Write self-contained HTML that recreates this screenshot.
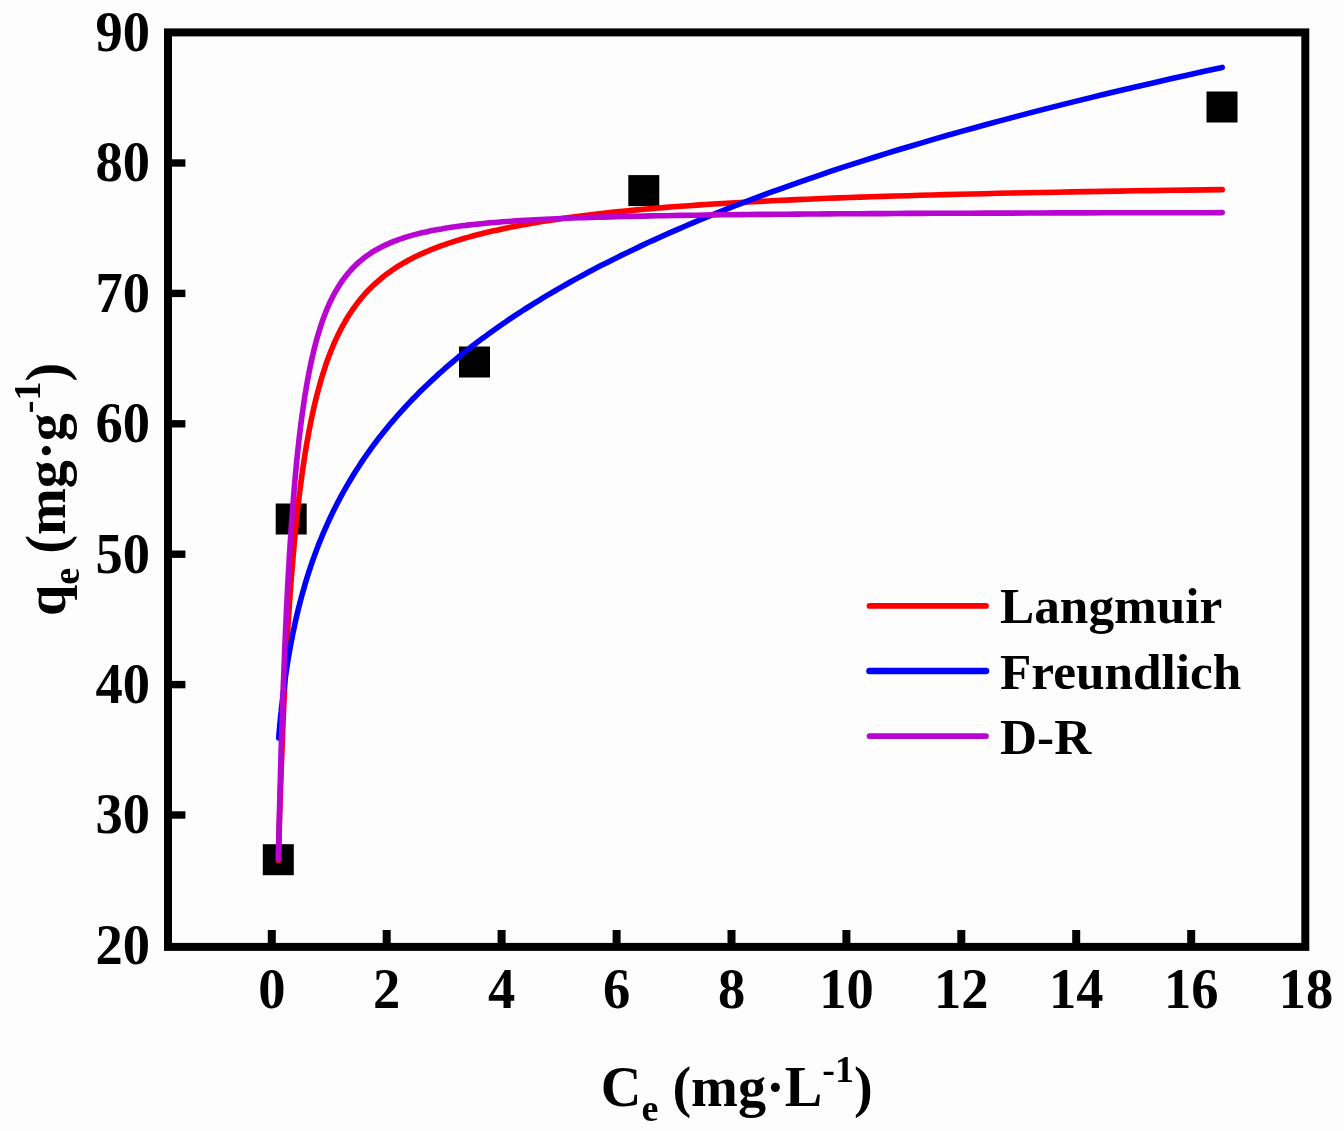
<!DOCTYPE html>
<html lang="en"><head><meta charset="utf-8"><title>Adsorption isotherm fits</title>
<style>
html,body{margin:0;padding:0;background:#fdfdfd;}
body{width:1344px;height:1131px;overflow:hidden;}
svg{display:block;filter:blur(0.45px);}
text{font-family:"Liberation Serif","Times New Roman",serif;font-weight:bold;fill:#000;}
</style></head><body>
<svg width="1344" height="1131" viewBox="0 0 1344 1131">
<rect x="0" y="0" width="1344" height="1131" fill="#fdfdfd"/>
<g id="frame"><rect x="168" y="32.4" width="1137.3" height="914.5" fill="none" stroke="#000" stroke-width="8"/></g>
<g id="xticks" fill="#000">
<rect x="267.8" y="930" width="8" height="14"/>
<rect x="382.7" y="930" width="8" height="14"/>
<rect x="497.6" y="930" width="8" height="14"/>
<rect x="612.6" y="930" width="8" height="14"/>
<rect x="727.5" y="930" width="8" height="14"/>
<rect x="842.4" y="930" width="8" height="14"/>
<rect x="957.3" y="930" width="8" height="14"/>
<rect x="1072.2" y="930" width="8" height="14"/>
<rect x="1187.2" y="930" width="8" height="14"/>
</g><g id="yticks" fill="#000">
<rect x="171" y="811.3" width="14.4" height="7.4"/>
<rect x="171" y="680.9" width="14.4" height="7.4"/>
<rect x="171" y="550.5" width="14.4" height="7.4"/>
<rect x="171" y="420.1" width="14.4" height="7.4"/>
<rect x="171" y="289.7" width="14.4" height="7.4"/>
<rect x="171" y="159.3" width="14.4" height="7.4"/>
</g><g id="xlabels" font-size="58" text-anchor="middle">
<text transform="translate(271.8,1007.6) scale(0.94,1)">0</text>
<text transform="translate(386.7,1007.6) scale(0.94,1)">2</text>
<text transform="translate(501.6,1007.6) scale(0.94,1)">4</text>
<text transform="translate(616.6,1007.6) scale(0.94,1)">6</text>
<text transform="translate(731.5,1007.6) scale(0.94,1)">8</text>
<text transform="translate(846.4,1007.6) scale(0.94,1)">10</text>
<text transform="translate(961.3,1007.6) scale(0.94,1)">12</text>
<text transform="translate(1076.2,1007.6) scale(0.94,1)">14</text>
<text transform="translate(1191.2,1007.6) scale(0.94,1)">16</text>
<text transform="translate(1306.1,1007.6) scale(0.94,1)">18</text>
</g><g id="ylabels" font-size="58" text-anchor="end">
<text transform="translate(150,963.8) scale(0.94,1)">20</text>
<text transform="translate(150,833.4) scale(0.94,1)">30</text>
<text transform="translate(150,703.0) scale(0.94,1)">40</text>
<text transform="translate(150,572.6) scale(0.94,1)">50</text>
<text transform="translate(150,442.2) scale(0.94,1)">60</text>
<text transform="translate(150,311.8) scale(0.94,1)">70</text>
<text transform="translate(150,181.4) scale(0.94,1)">80</text>
<text transform="translate(150,51.0) scale(0.94,1)">90</text>
</g><g id="points" fill="#000">
<rect x="262.8" y="844.2" width="31" height="31"/>
<rect x="275.7" y="503.5" width="31" height="31"/>
<rect x="459.0" y="346.5" width="31" height="31"/>
<rect x="628.3" y="175.1" width="31" height="31"/>
<rect x="1206.5" y="91.5" width="31" height="31"/>
</g><g id="curves" fill="none" stroke-width="5.6" stroke-linecap="round" stroke-linejoin="round">
<path stroke="#ff0000" d="M278.4,860.4 L278.5,855.8 L278.6,851.2 L278.7,846.6 L278.9,841.9 L279.0,837.3 L279.1,832.5 L279.3,827.8 L279.4,823.0 L279.6,818.3 L279.7,813.4 L279.9,808.6 L280.0,803.8 L280.2,798.9 L280.4,794.0 L280.5,789.1 L280.7,784.2 L280.9,779.2 L281.0,774.2 L281.2,769.3 L281.4,764.3 L281.6,759.3 L281.8,754.2 L282.0,749.2 L282.2,744.2 L282.4,739.1 L282.6,734.1 L282.8,729.0 L283.0,723.9 L283.2,718.8 L283.4,713.7 L283.7,708.7 L283.9,703.6 L284.1,698.5 L284.4,693.4 L284.6,688.3 L284.8,683.2 L285.1,678.1 L285.4,673.0 L285.6,667.9 L285.9,662.8 L286.2,657.7 L286.4,652.7 L286.7,647.6 L287.0,642.6 L287.3,637.5 L287.6,632.5 L287.9,627.5 L288.2,622.5 L288.5,617.5 L288.9,612.5 L289.2,607.5 L289.5,602.6 L289.9,597.6 L290.2,592.7 L290.6,587.8 L290.9,583.0 L291.3,578.1 L291.7,573.3 L292.1,568.5 L292.5,563.7 L292.9,558.9 L293.3,554.2 L293.7,549.5 L294.1,544.8 L294.5,540.1 L295.0,535.5 L295.4,530.9 L295.9,526.3 L296.3,521.7 L296.8,517.2 L297.3,512.7 L297.8,508.3 L298.3,503.9 L298.8,499.5 L299.3,495.1 L299.9,490.8 L300.4,486.5 L301.0,482.2 L301.5,478.0 L302.1,473.8 L302.7,469.7 L303.3,465.5 L303.9,461.5 L304.5,457.4 L305.1,453.4 L305.8,449.4 L306.4,445.5 L307.1,441.6 L307.8,437.7 L308.5,433.9 L309.2,430.1 L309.9,426.4 L310.7,422.6 L311.4,419.0 L312.2,415.3 L313.0,411.7 L313.7,408.2 L314.6,404.7 L315.4,401.2 L316.2,397.8 L317.1,394.4 L318.0,391.0 L318.9,387.7 L319.8,384.4 L320.7,381.1 L321.6,377.9 L322.6,374.8 L323.6,371.7 L324.6,368.6 L325.6,365.5 L326.6,362.5 L327.7,359.5 L328.8,356.6 L329.9,353.7 L331.0,350.8 L332.2,348.0 L333.3,345.2 L334.5,342.5 L335.7,339.8 L337.0,337.1 L338.2,334.5 L339.5,331.9 L340.8,329.4 L342.1,326.8 L343.5,324.4 L344.9,321.9 L346.3,319.5 L347.7,317.1 L349.2,314.8 L350.7,312.5 L352.2,310.2 L353.8,308.0 L355.4,305.8 L357.0,303.6 L358.6,301.5 L360.3,299.4 L362.0,297.3 L363.8,295.3 L365.5,293.3 L367.3,291.4 L369.2,289.4 L371.1,287.5 L373.0,285.7 L375.0,283.9 L376.9,282.1 L379.0,280.3 L381.1,278.5 L383.2,276.8 L385.3,275.1 L387.5,273.5 L389.7,271.9 L392.0,270.3 L394.3,268.7 L396.7,267.2 L399.1,265.6 L401.6,264.2 L404.1,262.7 L406.7,261.3 L409.3,259.8 L411.9,258.5 L414.6,257.1 L417.4,255.7 L420.2,254.4 L423.1,253.1 L426.0,251.8 L429.0,250.6 L432.0,249.3 L435.1,248.1 L438.3,246.9 L441.5,245.7 L444.8,244.6 L448.1,243.4 L451.5,242.3 L455.0,241.2 L458.5,240.1 L462.1,239.0 L465.8,237.9 L469.6,236.9 L473.4,235.8 L477.3,234.8 L481.3,233.8 L485.3,232.8 L489.4,231.8 L493.6,230.8 L497.9,229.9 L502.3,228.9 L506.8,228.0 L511.3,227.1 L515.9,226.2 L520.6,225.3 L525.5,224.4 L530.4,223.5 L535.4,222.7 L540.4,221.8 L545.6,221.0 L550.9,220.2 L556.3,219.4 L561.8,218.6 L567.4,217.8 L573.1,217.0 L579.0,216.2 L584.9,215.5 L591.0,214.8 L597.1,214.0 L603.4,213.3 L609.8,212.6 L616.4,211.9 L623.0,211.2 L629.8,210.6 L636.7,209.9 L643.8,209.3 L651.0,208.6 L658.3,208.0 L665.8,207.4 L673.4,206.8 L681.1,206.2 L689.1,205.7 L697.1,205.1 L705.3,204.5 L713.7,204.0 L722.3,203.5 L731.0,203.0 L739.8,202.5 L748.9,202.0 L758.1,201.5 L767.5,201.0 L777.1,200.5 L786.9,200.1 L796.8,199.6 L807.0,199.2 L817.3,198.8 L827.8,198.3 L838.6,197.9 L849.5,197.5 L860.7,197.1 L872.1,196.8 L883.7,196.4 L895.5,196.0 L907.6,195.7 L919.9,195.3 L932.4,195.0 L945.2,194.6 L958.2,194.3 L971.4,194.0 L985.0,193.7 L998.8,193.3 L1012.8,193.0 L1027.1,192.7 L1041.7,192.5 L1056.6,192.2 L1071.8,191.9 L1087.2,191.6 L1103.0,191.4 L1119.1,191.1 L1135.4,190.8 L1152.1,190.6 L1169.1,190.3 L1186.5,190.1 L1204.2,189.9 L1222.2,189.6"/>
<path stroke="#0000ff" d="M278.7,737.9 L278.9,736.3 L279.0,734.7 L279.1,733.1 L279.3,731.4 L279.4,729.8 L279.6,728.2 L279.7,726.5 L279.8,724.9 L280.0,723.2 L280.2,721.6 L280.3,719.9 L280.5,718.3 L280.6,716.6 L280.8,714.9 L281.0,713.2 L281.2,711.5 L281.3,709.8 L281.5,708.1 L281.7,706.4 L281.9,704.7 L282.1,703.0 L282.3,701.3 L282.5,699.5 L282.7,697.8 L282.9,696.1 L283.1,694.3 L283.3,692.6 L283.6,690.8 L283.8,689.0 L284.0,687.3 L284.2,685.5 L284.5,683.7 L284.7,681.9 L285.0,680.1 L285.2,678.3 L285.5,676.5 L285.7,674.7 L286.0,672.9 L286.3,671.0 L286.6,669.2 L286.8,667.4 L287.1,665.5 L287.4,663.7 L287.7,661.8 L288.0,659.9 L288.3,658.1 L288.6,656.2 L289.0,654.3 L289.3,652.4 L289.6,650.5 L290.0,648.6 L290.3,646.7 L290.7,644.8 L291.0,642.9 L291.4,640.9 L291.8,639.0 L292.2,637.0 L292.5,635.1 L292.9,633.1 L293.3,631.2 L293.8,629.2 L294.2,627.2 L294.6,625.2 L295.0,623.3 L295.5,621.3 L295.9,619.3 L296.4,617.2 L296.9,615.2 L297.3,613.2 L297.8,611.2 L298.3,609.1 L298.8,607.1 L299.4,605.0 L299.9,603.0 L300.4,600.9 L301.0,598.8 L301.5,596.8 L302.1,594.7 L302.7,592.6 L303.3,590.5 L303.9,588.4 L304.5,586.2 L305.1,584.1 L305.7,582.0 L306.4,579.9 L307.0,577.7 L307.7,575.6 L308.4,573.4 L309.1,571.2 L309.8,569.1 L310.5,566.9 L311.3,564.7 L312.0,562.5 L312.8,560.3 L313.6,558.1 L314.4,555.9 L315.2,553.6 L316.0,551.4 L316.9,549.1 L317.7,546.9 L318.6,544.6 L319.5,542.4 L320.4,540.1 L321.4,537.8 L322.3,535.5 L323.3,533.2 L324.3,530.9 L325.3,528.6 L326.3,526.3 L327.3,524.0 L328.4,521.6 L329.5,519.3 L330.6,516.9 L331.7,514.6 L332.8,512.2 L334.0,509.8 L335.2,507.5 L336.4,505.1 L337.6,502.7 L338.9,500.3 L340.2,497.8 L341.5,495.4 L342.8,493.0 L344.2,490.5 L345.6,488.1 L347.0,485.6 L348.4,483.2 L349.9,480.7 L351.4,478.2 L352.9,475.7 L354.4,473.2 L356.0,470.7 L357.6,468.2 L359.3,465.7 L360.9,463.1 L362.6,460.6 L364.4,458.0 L366.1,455.5 L368.0,452.9 L369.8,450.3 L371.7,447.7 L373.6,445.1 L375.5,442.5 L377.5,439.9 L379.5,437.3 L381.6,434.7 L383.7,432.0 L385.8,429.4 L388.0,426.7 L390.2,424.0 L392.5,421.4 L394.8,418.7 L397.1,416.0 L399.5,413.3 L402.0,410.6 L404.5,407.8 L407.0,405.1 L409.6,402.4 L412.2,399.6 L414.9,396.9 L417.6,394.1 L420.4,391.3 L423.3,388.5 L426.2,385.7 L429.1,382.9 L432.1,380.1 L435.2,377.3 L438.3,374.4 L441.5,371.6 L444.7,368.7 L448.0,365.9 L451.4,363.0 L454.8,360.1 L458.3,357.2 L461.9,354.3 L465.5,351.4 L469.2,348.5 L473.0,345.5 L476.9,342.6 L480.8,339.6 L484.8,336.7 L488.8,333.7 L493.0,330.7 L497.2,327.7 L501.5,324.7 L505.9,321.7 L510.4,318.7 L514.9,315.6 L519.6,312.6 L524.3,309.5 L529.2,306.5 L534.1,303.4 L539.1,300.3 L544.2,297.2 L549.4,294.1 L554.7,291.0 L560.1,287.8 L565.6,284.7 L571.2,281.5 L577.0,278.4 L582.8,275.2 L588.7,272.0 L594.8,268.8 L601.0,265.6 L607.3,262.4 L613.7,259.2 L620.2,255.9 L626.9,252.7 L633.7,249.4 L640.6,246.1 L647.6,242.8 L654.8,239.6 L662.1,236.2 L669.6,232.9 L677.2,229.6 L684.9,226.3 L692.8,222.9 L700.9,219.5 L709.1,216.2 L717.4,212.8 L726.0,209.4 L734.6,206.0 L743.5,202.6 L752.5,199.1 L761.7,195.7 L771.1,192.2 L780.6,188.8 L790.3,185.3 L800.2,181.8 L810.3,178.3 L820.6,174.8 L831.1,171.2 L841.8,167.7 L852.7,164.1 L863.8,160.6 L875.1,157.0 L886.7,153.4 L898.4,149.8 L910.4,146.2 L922.6,142.6 L935.0,138.9 L947.7,135.3 L960.6,131.6 L973.8,128.0 L987.2,124.3 L1000.9,120.6 L1014.8,116.9 L1029.0,113.1 L1043.5,109.4 L1058.3,105.6 L1073.3,101.9 L1088.6,98.1 L1104.2,94.3 L1120.1,90.5 L1136.3,86.7 L1152.9,82.9 L1169.7,79.0 L1186.9,75.2 L1204.4,71.3 L1222.2,67.4"/>
<path stroke="#b805d2" d="M278.4,858.7 L278.5,853.1 L278.6,847.6 L278.7,842.0 L278.9,836.3 L279.0,830.6 L279.1,825.0 L279.3,819.2 L279.4,813.5 L279.6,807.7 L279.7,801.9 L279.9,796.1 L280.0,790.2 L280.2,784.4 L280.4,778.5 L280.5,772.6 L280.7,766.6 L280.9,760.7 L281.0,754.8 L281.2,748.8 L281.4,742.8 L281.6,736.8 L281.8,730.8 L282.0,724.8 L282.2,718.8 L282.4,712.8 L282.6,706.8 L282.8,700.8 L283.0,694.8 L283.2,688.8 L283.4,682.8 L283.7,676.8 L283.9,670.8 L284.1,664.8 L284.4,658.8 L284.6,652.8 L284.8,646.8 L285.1,640.9 L285.4,635.0 L285.6,629.0 L285.9,623.1 L286.2,617.3 L286.4,611.4 L286.7,605.5 L287.0,599.7 L287.3,593.9 L287.6,588.2 L287.9,582.4 L288.2,576.7 L288.5,571.0 L288.9,565.4 L289.2,559.7 L289.5,554.1 L289.9,548.6 L290.2,543.1 L290.6,537.6 L290.9,532.1 L291.3,526.7 L291.7,521.4 L292.1,516.0 L292.5,510.7 L292.9,505.5 L293.3,500.3 L293.7,495.1 L294.1,490.0 L294.5,485.0 L295.0,479.9 L295.4,475.0 L295.9,470.1 L296.3,465.2 L296.8,460.4 L297.3,455.6 L297.8,450.9 L298.3,446.2 L298.8,441.6 L299.3,437.0 L299.9,432.5 L300.4,428.1 L301.0,423.7 L301.5,419.3 L302.1,415.0 L302.7,410.8 L303.3,406.6 L303.9,402.5 L304.5,398.4 L305.1,394.4 L305.8,390.5 L306.4,386.6 L307.1,382.7 L307.8,378.9 L308.5,375.2 L309.2,371.6 L309.9,367.9 L310.7,364.4 L311.4,360.9 L312.2,357.5 L313.0,354.1 L313.7,350.7 L314.6,347.5 L315.4,344.3 L316.2,341.1 L317.1,338.0 L318.0,334.9 L318.9,331.9 L319.8,329.0 L320.7,326.1 L321.6,323.3 L322.6,320.5 L323.6,317.8 L324.6,315.1 L325.6,312.5 L326.6,309.9 L327.7,307.4 L328.8,304.9 L329.9,302.5 L331.0,300.2 L332.2,297.8 L333.3,295.6 L334.5,293.4 L335.7,291.2 L337.0,289.1 L338.2,287.0 L339.5,285.0 L340.8,283.0 L342.1,281.0 L343.5,279.1 L344.9,277.3 L346.3,275.5 L347.7,273.7 L349.2,272.0 L350.7,270.3 L352.2,268.6 L353.8,267.0 L355.4,265.4 L357.0,263.9 L358.6,262.4 L360.3,261.0 L362.0,259.5 L363.8,258.1 L365.5,256.8 L367.3,255.5 L369.2,254.2 L371.1,252.9 L373.0,251.7 L375.0,250.5 L376.9,249.4 L379.0,248.3 L381.1,247.2 L383.2,246.1 L385.3,245.1 L387.5,244.1 L389.7,243.1 L392.0,242.1 L394.3,241.2 L396.7,240.3 L399.1,239.4 L401.6,238.6 L404.1,237.7 L406.7,236.9 L409.3,236.1 L411.9,235.4 L414.6,234.6 L417.4,233.9 L420.2,233.2 L423.1,232.5 L426.0,231.9 L429.0,231.2 L432.0,230.6 L435.1,230.0 L438.3,229.4 L441.5,228.9 L444.8,228.3 L448.1,227.8 L451.5,227.3 L455.0,226.8 L458.5,226.3 L462.1,225.8 L465.8,225.4 L469.6,224.9 L473.4,224.5 L477.3,224.1 L481.3,223.7 L485.3,223.3 L489.4,222.9 L493.6,222.5 L497.9,222.2 L502.3,221.8 L506.8,221.5 L511.3,221.2 L515.9,220.9 L520.6,220.6 L525.5,220.3 L530.4,220.0 L535.4,219.7 L540.4,219.5 L545.6,219.2 L550.9,219.0 L556.3,218.7 L561.8,218.5 L567.4,218.3 L573.1,218.0 L579.0,217.8 L584.9,217.6 L591.0,217.4 L597.1,217.2 L603.4,217.1 L609.8,216.9 L616.4,216.7 L623.0,216.5 L629.8,216.4 L636.7,216.2 L643.8,216.1 L651.0,215.9 L658.3,215.8 L665.8,215.7 L673.4,215.5 L681.1,215.4 L689.1,215.3 L697.1,215.2 L705.3,215.0 L713.7,214.9 L722.3,214.8 L731.0,214.7 L739.8,214.6 L748.9,214.5 L758.1,214.4 L767.5,214.4 L777.1,214.3 L786.9,214.2 L796.8,214.1 L807.0,214.0 L817.3,214.0 L827.8,213.9 L838.6,213.8 L849.5,213.7 L860.7,213.7 L872.1,213.6 L883.7,213.6 L895.5,213.5 L907.6,213.4 L919.9,213.4 L932.4,213.3 L945.2,213.3 L958.2,213.2 L971.4,213.2 L985.0,213.1 L998.8,213.1 L1012.8,213.1 L1027.1,213.0 L1041.7,213.0 L1056.6,212.9 L1071.8,212.9 L1087.2,212.9 L1103.0,212.8 L1119.1,212.8 L1135.4,212.8 L1152.1,212.7 L1169.1,212.7 L1186.5,212.7 L1204.2,212.7 L1222.2,212.6"/>
</g><g id="legend" font-size="51.3">
<line x1="869.5" y1="605.9" x2="986" y2="605.9" stroke="#ff0000" stroke-width="5.8" stroke-linecap="round"/>
<text x="1000" y="623.4">Langmuir</text>
<line x1="869.5" y1="671.0" x2="986" y2="671.0" stroke="#0000ff" stroke-width="6.6" stroke-linecap="round"/>
<text x="1000" y="688.5">Freundlich</text>
<line x1="869.5" y1="736.1" x2="986" y2="736.1" stroke="#b805d2" stroke-width="5.8" stroke-linecap="round"/>
<text x="1000" y="753.6">D-R</text>
</g><g id="titles" font-size="57.5">
<text transform="translate(600.8,1105.5) scale(0.978,1)">C<tspan font-size="39" dy="15">e</tspan><tspan dy="-15"> (mg·L</tspan><tspan font-size="39" dy="-23.5">-1</tspan><tspan dy="23.5">)</tspan></text>
<text transform="translate(65,616) rotate(-90) scale(0.978,1)">q<tspan font-size="39" dy="14">e</tspan><tspan dy="-14"> (mg·g</tspan><tspan font-size="39" dy="-25.5">-1</tspan><tspan dy="25.5">)</tspan></text>
</g></svg></body></html>
